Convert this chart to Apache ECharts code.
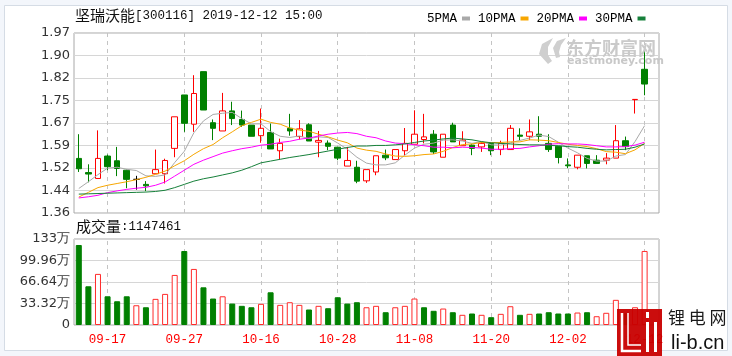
<!DOCTYPE html>
<html>
<head>
<meta charset="utf-8">
<script src="https://cdn.jsdelivr.net/npm/echarts@6/dist/echarts.min.js"></script>
<style>
html,body{margin:0;padding:0;background:#f3f6fb;}
#c{width:732px;height:356px;}
</style>
</head>
<body>
<div id="c"></div>
<script>
// ---- data ----
const dates = ['09-11','09-12','09-16','09-17','09-18','09-19','09-20','09-23','09-24','09-25',
  '09-26','09-27','09-30','10-08','10-09','10-10','10-11','10-14','10-15','10-16',
  '10-17','10-18','10-21','10-22','10-23','10-24','10-25','10-28','10-29','10-30',
  '10-31','11-04','11-05','11-06','11-07','11-08','11-11','11-12','11-13','11-14',
  '11-15','11-18','11-19','11-20','11-21','11-22','11-25','11-26','11-27','11-28',
  '11-29','12-02','12-03','12-04','12-05','12-06','12-09','12-10','12-11','12-12',''];
// [open, close, low, high]
const candles = [
  [1.545,1.510,1.499,1.627],[1.497,1.492,1.464,1.525],[1.477,1.545,1.477,1.640],[1.553,1.517,1.505,1.558],
  [1.537,1.511,1.485,1.584],[1.505,1.474,1.444,1.507],[1.474,1.474,1.439,1.486],[1.457,1.452,1.434,1.468],
  [1.493,1.507,1.493,1.575],[1.493,1.538,1.460,1.544],[1.579,1.686,1.549,1.686],[1.760,1.664,1.635,1.760],
  [1.661,1.765,1.635,1.827],[1.839,1.709,1.709,1.839],[1.666,1.647,1.607,1.677],[1.638,1.706,1.638,1.767],
  [1.706,1.680,1.658,1.737],[1.677,1.658,1.652,1.707],[1.658,1.620,1.620,1.658],[1.622,1.647,1.598,1.714],
  [1.633,1.577,1.577,1.663],[1.571,1.596,1.541,1.612],[1.647,1.638,1.622,1.696],[1.619,1.645,1.609,1.675],
  [1.659,1.604,1.604,1.664],[1.600,1.606,1.549,1.638],[1.597,1.586,1.573,1.606],[1.583,1.546,1.539,1.583],
  [1.519,1.538,1.519,1.584],[1.515,1.468,1.461,1.537],[1.469,1.507,1.462,1.507],[1.499,1.554,1.488,1.554],
  [1.556,1.547,1.539,1.575],[1.541,1.575,1.541,1.575],[1.571,1.596,1.556,1.648],[1.593,1.627,1.593,1.708],
  [1.609,1.618,1.596,1.696],[1.627,1.567,1.560,1.641],[1.549,1.627,1.549,1.627],[1.658,1.601,1.601,1.666],
  [1.588,1.607,1.588,1.637],[1.590,1.579,1.556,1.593],[1.584,1.596,1.567,1.601],[1.596,1.571,1.556,1.596],
  [1.575,1.596,1.556,1.605],[1.575,1.647,1.575,1.658],[1.624,1.620,1.607,1.647],[1.620,1.635,1.607,1.677],
  [1.627,1.620,1.601,1.688],[1.596,1.575,1.567,1.627],[1.586,1.548,1.528,1.586],[1.523,1.520,1.512,1.545],
  [1.515,1.556,1.508,1.556],[1.554,1.528,1.511,1.554],[1.539,1.528,1.528,1.556],[1.539,1.546,1.525,1.563],
  [1.546,1.605,1.546,1.658],[1.605,1.585,1.573,1.619],[1.744,1.745,1.697,1.745],[1.847,1.797,1.759,1.921]
];
const volumes = [
  1240000,600000,792000,445000,368000,445000,306000,275000,405000,482000,
  776000,1147000,869000,584000,410000,445000,332000,297000,275000,328000,
  507000,312000,353000,312000,240000,297000,260000,430000,332000,353000,
  275000,297000,198000,275000,297000,410000,275000,220000,255000,198000,
  158000,178000,158000,121000,173000,291000,158000,173000,178000,198000,
  178000,178000,193000,198000,136000,189000,390000,180000,275000,1147461
];
const ma5 = [1.443,1.466,1.490,1.512,1.515,1.508,1.504,1.486,1.484,1.489,1.531,1.569,1.632,1.672,1.694,1.698,1.701,1.680,1.662,1.662,
  1.636,1.620,1.616,1.621,1.612,1.618,1.616,1.597,1.576,1.549,1.529,1.523,1.523,1.530,1.556,1.580,1.593,1.597,1.607,1.608,
  1.604,1.596,1.602,1.591,1.590,1.598,1.606,1.614,1.624,1.619,1.600,1.580,1.564,1.545,1.536,1.536,1.553,1.558,1.602,1.656];
const ma10 = [1.414,1.430,1.446,1.454,1.460,1.466,1.473,1.481,1.491,1.502,1.520,1.537,1.559,1.578,1.592,1.615,1.635,1.656,1.667,1.678,
  1.667,1.661,1.648,1.641,1.637,1.627,1.618,1.607,1.598,1.580,1.573,1.569,1.560,1.553,1.552,1.554,1.558,1.560,1.569,1.582,
  1.592,1.594,1.599,1.599,1.599,1.601,1.601,1.608,1.607,1.605,1.599,1.593,1.589,1.585,1.578,1.568,1.566,1.561,1.574,1.596];
const ma20 = [1.411,1.415,1.420,1.429,1.435,1.440,1.444,1.447,1.454,1.465,1.485,1.505,1.525,1.539,1.551,1.563,1.571,1.578,1.583,1.590,
  1.593,1.599,1.603,1.610,1.614,1.621,1.627,1.631,1.633,1.629,1.620,1.615,1.604,1.597,1.595,1.591,1.588,1.583,1.583,1.581,
  1.583,1.582,1.580,1.576,1.576,1.578,1.579,1.584,1.588,1.593,1.595,1.594,1.594,1.592,1.588,1.584,1.584,1.585,1.590,1.600];
const ma30 = [1.424,1.425,1.426,1.427,1.428,1.429,1.430,1.431,1.433,1.437,1.446,1.457,1.468,1.476,1.482,1.489,1.496,1.505,1.517,1.530,
  1.536,1.542,1.548,1.553,1.558,1.564,1.570,1.576,1.582,1.587,1.587,1.589,1.589,1.591,1.594,1.599,1.604,1.607,1.611,1.614,
  1.611,1.608,1.602,1.598,1.596,1.594,1.592,1.591,1.591,1.589,1.588,1.585,1.583,1.579,1.576,1.574,1.575,1.576,1.583,1.594];
const tickDates = ['09-17','09-27','10-16','10-28','11-08','11-20','12-02','12-12'];
const priceTicks = ['1.36','1.44','1.52','1.59','1.67','1.75','1.82','1.90','1.97'];
const volTicks = ['0','33.32万','66.64万','99.96万','133万'];
const priceMin = 1.36, priceMax = 1.97;
const volMax = 1332800;

// ---- build ----
const RED = '#ff0000', GREEN = '#008000';
const volData = volumes.map((v, i) => {
  const c = candles[i][1];
  const prev = i > 0 ? candles[i - 1][1] : candles[i][0];
  const up = c >= prev;
  return {value: v, itemStyle: up ? {color: '#ffffff', borderColor: '#ff2a2a', borderWidth: 1}
                                   : {color: GREEN, borderColor: GREEN, borderWidth: 1}};
});
const vLines = {
  silent: true, symbol: ['none', 'none'], label: {show: false}, z: 1,
  lineStyle: {type: [4, 4], color: '#c4c4c4', width: 1},
  emphasis: {disabled: true},
  data: tickDates.map(d => ({xAxis: d}))
};
const labelFont = 'DejaVu Sans';
const richTitle = {a: {fontFamily: 'Noto Sans CJK SC', fontSize: 15, fontWeight: 'normal', color: '#111'},
                   b: {fontFamily: 'Liberation Mono', fontSize: 12.5, fontWeight: 'normal', color: '#111'}};
const chart = echarts.init(document.getElementById('c'), null, {renderer: 'canvas'});
const gridL = 74, gridW = 585;
chart.setOption({
  animation: false,
  backgroundColor: '#f3f6fb',
  title: [
    {text: '{a|坚瑞沃能}{b|[300116] 2019-12-12 15:00}', left: 75, top: 8, padding: 0,
     textStyle: {fontWeight: 'normal', rich: richTitle}},
    {text: '{a|成交量}{b|:1147461}', left: 76, top: 219, padding: 0,
     textStyle: {fontWeight: 'normal', rich: richTitle}}
  ],
  legend: {
    left: 427, top: 12, padding: 0, align: 'right', icon: 'rect', itemWidth: 8, itemHeight: 4, itemGap: 8,
    selectedMode: false,
    textStyle: {fontFamily: 'Liberation Mono', fontSize: 12.5, color: '#000'},
    data: ['5PMA', '10PMA', '20PMA', '30PMA']
  },
  grid: [
    {left: gridL, width: gridW, top: 33, height: 180, show: true, backgroundColor: '#ffffff', borderColor: '#a8a8a8', borderWidth: 1},
    {left: gridL, width: gridW, top: 239, height: 86, show: true, backgroundColor: '#ffffff', borderColor: '#a8a8a8', borderWidth: 1}
  ],
  xAxis: [
    {type: 'category', gridIndex: 0, data: dates, boundaryGap: true,
     axisLine: {show: false}, axisTick: {show: false}, axisLabel: {show: false}, splitLine: {show: false}},
    {type: 'category', gridIndex: 1, data: dates, boundaryGap: true,
     axisLine: {show: false}, axisTick: {show: false}, splitLine: {show: false},
     axisLabel: {interval: (i, v) => tickDates.indexOf(v) >= 0, color: RED, fontFamily: 'Liberation Mono',
                 fontSize: 12.5, margin: 8}}
  ],
  yAxis: [
    {type: 'value', gridIndex: 0, min: priceMin, max: priceMax, show: false},
    {type: 'value', gridIndex: 0, min: 0, max: priceTicks.length - 1, interval: 1, position: 'left',
     axisLine: {show: false}, axisTick: {show: false},
     axisLabel: {formatter: v => priceTicks[Math.round(v)], color: '#333', fontFamily: labelFont, fontSize: 13, margin: 4},
     splitLine: {lineStyle: {color: '#d6d6d6', width: 1}}},
    {type: 'value', gridIndex: 1, min: 0, max: volMax, interval: volMax / (volTicks.length - 1), position: 'left',
     axisLine: {show: false}, axisTick: {show: false},
     axisLabel: {formatter: v => volTicks[Math.round(v / (volMax / (volTicks.length - 1)))], color: '#333',
                 fontFamily: labelFont, fontSize: 13, margin: 4},
     splitLine: {lineStyle: {color: '#d6d6d6', width: 1}}}
  ],
  series: [
    {type: 'candlestick', xAxisIndex: 0, yAxisIndex: 0, data: candles, barWidth: 6, z: 3,
     itemStyle: {color: '#ffffff', color0: GREEN, borderColor: RED, borderColor0: GREEN, borderColorDoji: '#000000', borderWidth: 1},
     markLine: vLines},
    {name: '5PMA', type: 'line', xAxisIndex: 0, yAxisIndex: 0, data: ma5, symbol: 'none', z: 4, color: '#a9a9a9', lineStyle: {width: 1}},
    {name: '10PMA', type: 'line', xAxisIndex: 0, yAxisIndex: 0, data: ma10, symbol: 'none', z: 4, color: '#f7a600', lineStyle: {width: 1}},
    {name: '20PMA', type: 'line', xAxisIndex: 0, yAxisIndex: 0, data: ma20, symbol: 'none', z: 4, color: '#ff00ff', lineStyle: {width: 1}},
    {name: '30PMA', type: 'line', xAxisIndex: 0, yAxisIndex: 0, data: ma30, symbol: 'none', z: 4, color: '#16803a', lineStyle: {width: 1}},
    {type: 'bar', xAxisIndex: 1, yAxisIndex: 2, data: volData, barWidth: 6, z: 3, markLine: vLines}
  ],
  graphic: {elements: [
    {type: 'rect', z: -10, silent: true, shape: {x: 4.5, y: 5.5, width: 723, height: 345},
     style: {fill: '#ffffff', stroke: '#d5dce5', lineWidth: 1}},
    // eastmoney watermark
    {type: 'polygon', z: 50, silent: true,
     shape: {points: [[548, 64], [539, 54], [542, 44], [553, 38], [548, 47], [548, 55], [552, 61]]},
     style: {fill: '#cfcfcf'}},
    {type: 'polygon', z: 50, silent: true,
     shape: {points: [[556, 58], [553, 48], [557, 41], [566, 38], [561, 45], [559, 52], [560, 57]]},
     style: {fill: '#cfcfcf'}},
    {type: 'text', z: 50, silent: true, style: {text: '东方财富网', x: 566, y: 48, fill: '#cacaca',
     font: 'bold 18px "Noto Sans CJK SC"', verticalAlign: 'middle'}},
    {type: 'text', z: 50, silent: true, style: {text: 'eastmoney.com', x: 567, y: 61, fill: '#c8c8c8',
     font: 'bold 11px "DejaVu Sans"', verticalAlign: 'middle'}},
    // li-b.cn logo
    {type: 'rect', z: 100, silent: true, shape: {x: 617, y: 309, width: 45, height: 47}, style: {fill: '#c80000', opacity: 0.95}},
    {type: 'polyline', z: 101, silent: true, shape: {points: [[622, 313], [622, 351], [641, 351]]}, style: {stroke: '#ffffff', lineWidth: 2.5, fill: null}},
    {type: 'polyline', z: 101, silent: true, shape: {points: [[628, 313], [628, 345], [641, 345]]}, style: {stroke: '#ffffff', lineWidth: 1.5, fill: null}},
    {type: 'rect', z: 101, silent: true, shape: {x: 646, y: 322, width: 3, height: 30}, style: {fill: '#ffffff'}},
    {type: 'rect', z: 101, silent: true, shape: {x: 646, y: 312, width: 3, height: 6}, style: {fill: '#ffffff'}},
    {type: 'rect', z: 101, silent: true, shape: {x: 654, y: 322, width: 3, height: 30}, style: {fill: '#ffffff'}},
    {type: 'text', z: 100, silent: true, style: {text: '锂 电 网', x: 668, y: 318, fill: '#1a1a1a',
     font: '17px "Noto Sans CJK SC"', verticalAlign: 'middle'}},
    {type: 'text', z: 100, silent: true, style: {text: 'li-b.cn', x: 671, y: 343, fill: '#111111',
     font: '20px "Liberation Sans"', verticalAlign: 'middle'}}
  ]}
});
</script>
</body>
</html>
